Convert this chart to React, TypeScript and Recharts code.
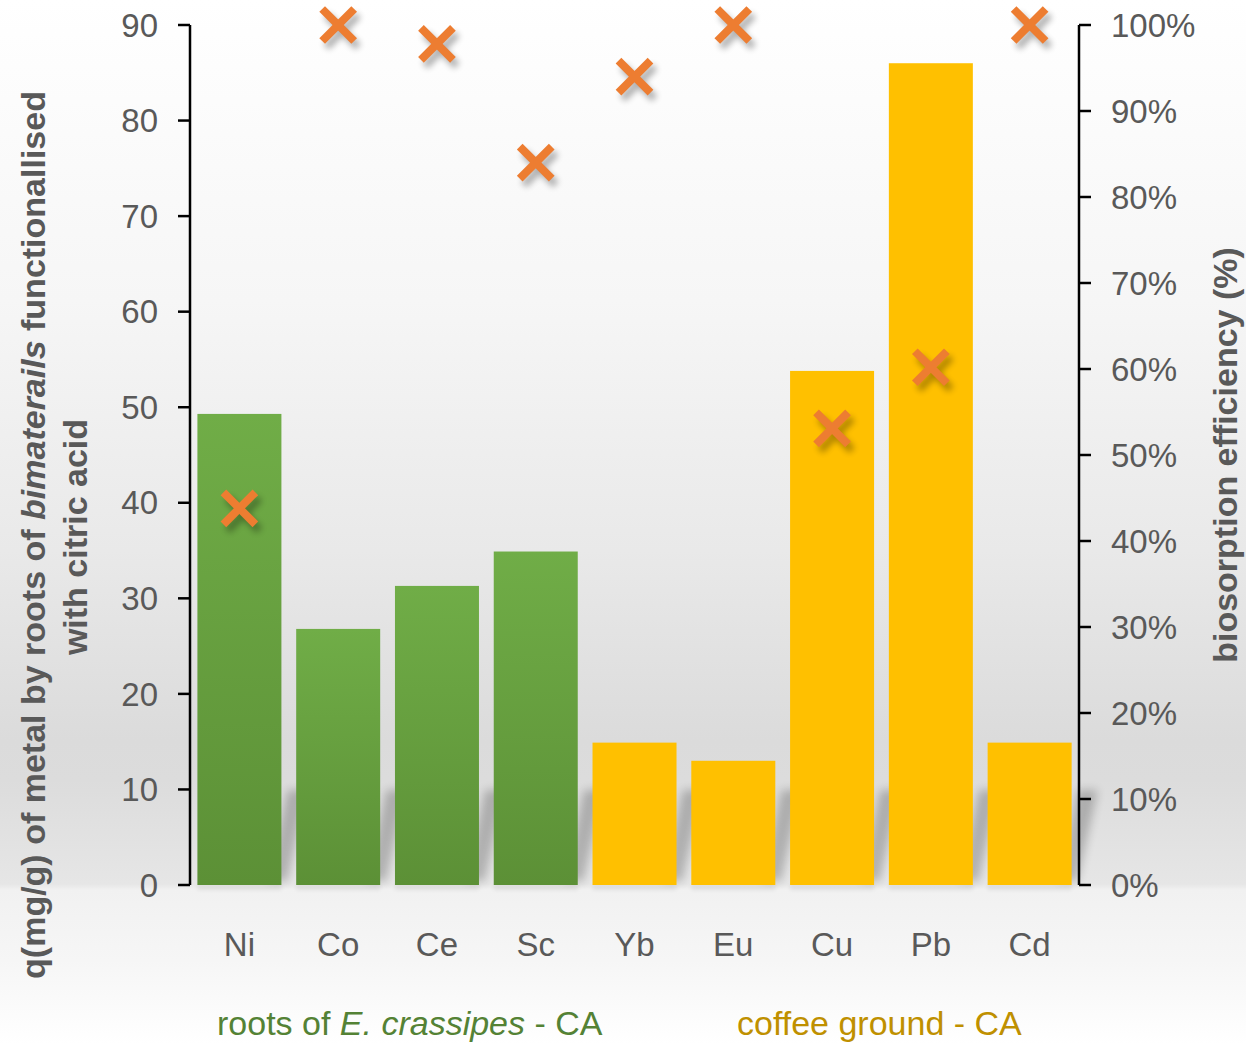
import React from 'react';
import { ComposedChart, Bar, Line, XAxis, YAxis } from 'recharts';

if (typeof document !== 'undefined') {
  document.body.style.margin = '0';
  document.body.style.overflow = 'hidden';
}

const categories = ['Ni', 'Co', 'Ce', 'Sc', 'Yb', 'Eu', 'Cu', 'Pb', 'Cd'];
const groups = ['roots', 'roots', 'roots', 'roots', 'coffee', 'coffee', 'coffee', 'coffee', 'coffee'];
const qValues = [49.3, 26.8, 31.3, 34.9, 14.9, 13.0, 53.8, 86.0, 14.9];
const efficiency = [0.438, 1.0, 0.978, 0.84, 0.94, 1.0, 0.531, 0.602, 1.0];
const leftTicks = [0, 10, 20, 30, 40, 50, 60, 70, 80, 90];
const rightTicks = [0, 0.1, 0.2, 0.3, 0.4, 0.5, 0.6, 0.7, 0.8, 0.9, 1.0];

const data = categories.map((name, i) => ({
  name,
  group: groups[i],
  q: qValues[i],
  eff: efficiency[i],
}));

const FONT = '"Liberation Sans", Arial, sans-serif';
const TEXT = '#595959';

const BarShape = (props: any) => {
  const { x, y, width, height, payload } = props;
  if (height == null || height <= 0) return null;
  const y0 = y + height;
  const fill = payload.group === 'roots' ? 'url(#greenGrad)' : '#FFC000';
  const sh = Math.min(95, height);
  const pts = `${x + width - 14},${y0 - 4} ${x + width + 6},${y0 - 4} ${x + width + 26},${y0 - sh} ${x + width + 6},${y0 - sh}`;
  return (
    <g>
      <polygon points={pts} fill="#000" opacity={0.22} filter="url(#barShadow)" />
      <rect x={x} y={y0} width={width} height={5} fill="#000" opacity={0.07} filter="url(#floorShadow)" />
      <rect x={x} y={y} width={width} height={height} fill={fill} />
    </g>
  );
};

const XMarker = (props: any) => {
  const { cx, cy, index } = props;
  if (cx == null || cy == null) return null;
  const s = 16;
  return (
    <g key={`m-${index}`}>
      <g transform="translate(4,6)" opacity={0.3} filter="url(#markShadow)">
        <line x1={cx - s} y1={cy - s} x2={cx + s} y2={cy + s} stroke="#000" strokeWidth={8} />
        <line x1={cx - s} y1={cy + s} x2={cx + s} y2={cy - s} stroke="#000" strokeWidth={8} />
      </g>
      <line x1={cx - s} y1={cy - s} x2={cx + s} y2={cy + s} stroke="#ED7D31" strokeWidth={8} />
      <line x1={cx - s} y1={cy + s} x2={cx + s} y2={cy - s} stroke="#ED7D31" strokeWidth={8} />
    </g>
  );
};

const XTick = (props: any) => {
  const { x, y, payload } = props;
  return (
    <text x={x} y={y + 71} textAnchor="middle" fill={TEXT} fontSize={33} fontFamily={FONT}>
      {payload.value}
    </text>
  );
};

export default function App() {
  return (
    <div
      style={{
        position: 'relative',
        width: 1246,
        height: 1044,
        background:
          'linear-gradient(180deg, #ffffff 0px, #f6f6f6 300px, #e9e9e9 550px, #dbdbdb 740px, #dcdcdc 780px, #e6e6e6 884px, #f1f1f1 890px, #f6f6f6 960px, #ffffff 1044px)',
      }}
    >
      <svg width={0} height={0} style={{ position: 'absolute' }}>
        <defs>
          <linearGradient id="greenGrad" x1="0" y1="0" x2="0" y2="1">
            <stop offset="0%" stopColor="#70AD47" />
            <stop offset="100%" stopColor="#5C9036" />
          </linearGradient>
          <filter id="barShadow" x="-100%" y="-50%" width="300%" height="200%">
            <feGaussianBlur stdDeviation="5" />
          </filter>
          <filter id="floorShadow" x="-20%" y="-200%" width="140%" height="500%">
            <feGaussianBlur stdDeviation="2" />
          </filter>
          <filter id="markShadow" x="-50%" y="-50%" width="200%" height="200%">
            <feGaussianBlur stdDeviation="3" />
          </filter>
        </defs>
      </svg>
      <div style={{ position: 'absolute', left: 0, top: 0 }}>
        <ComposedChart
          width={1246}
          height={1044}
          data={data}
          margin={{ top: 25, right: 0, bottom: 0, left: 0 }}
          barCategoryGap="7.5%"
        >
          <XAxis
            dataKey="name"
            height={159}
            axisLine={false}
            tickLine={false}
            tickSize={0}
            tickMargin={0}
            interval={0}
            tick={<XTick />}
          />
          <YAxis
            yAxisId="left"
            width={190}
            domain={[0, 90]}
            ticks={leftTicks}
            interval={0}
            tickSize={12}
            tickMargin={20}
            axisLine={{ stroke: '#000', strokeWidth: 2.5 }}
            tickLine={{ stroke: '#000', strokeWidth: 2.5 }}
            tick={{ fill: TEXT, fontSize: 33, fontFamily: FONT }}
          />
          <YAxis
            yAxisId="right"
            orientation="right"
            width={167}
            domain={[0, 1]}
            ticks={rightTicks}
            interval={0}
            tickSize={12}
            tickMargin={20}
            tickFormatter={(v: number) => `${Math.round(v * 100)}%`}
            axisLine={{ stroke: '#000', strokeWidth: 2.5 }}
            tickLine={{ stroke: '#000', strokeWidth: 2.5 }}
            tick={{ fill: TEXT, fontSize: 33, fontFamily: FONT, textAnchor: 'start' }}
          />
          <Bar yAxisId="left" dataKey="q" shape={<BarShape />} isAnimationActive={false} />
          <Line
            yAxisId="right"
            dataKey="eff"
            stroke="none"
            strokeWidth={0}
            dot={(p: any) => <XMarker key={`x-${p.index}`} {...p} />}
            activeDot={false}
            isAnimationActive={false}
          />
        </ComposedChart>
      </div>
      <svg
        width={1246}
        height={1044}
        style={{ position: 'absolute', left: 0, top: 0, pointerEvents: 'none' }}
      >
        <text
          transform="translate(45,535) rotate(-90)"
          textAnchor="middle"
          fontSize={34}
          fontWeight="bold"
          fontFamily={FONT}
          fill={TEXT}
        >
          q(mg/g) of metal by roots of <tspan fontStyle="italic">bimaterails</tspan> functionallised
        </text>
        <text
          transform="translate(87,537) rotate(-90)"
          textAnchor="middle"
          fontSize={34}
          fontWeight="bold"
          fontFamily={FONT}
          fill={TEXT}
        >
          with citric acid
        </text>
        <text
          transform="translate(1237,455) rotate(-90)"
          textAnchor="middle"
          fontSize={34}
          fontWeight="bold"
          fontFamily={FONT}
          fill={TEXT}
        >
          biosorption efficiency (%)
        </text>
        <text x={217} y={1035} fontSize={34} fontFamily={FONT} fill="#548235">
          roots of <tspan fontStyle="italic">E. crassipes</tspan> - CA
        </text>
        <text x={737} y={1035} fontSize={34} fontFamily={FONT} fill="#BF9000">
          coffee ground - CA
        </text>
      </svg>
    </div>
  );
}
